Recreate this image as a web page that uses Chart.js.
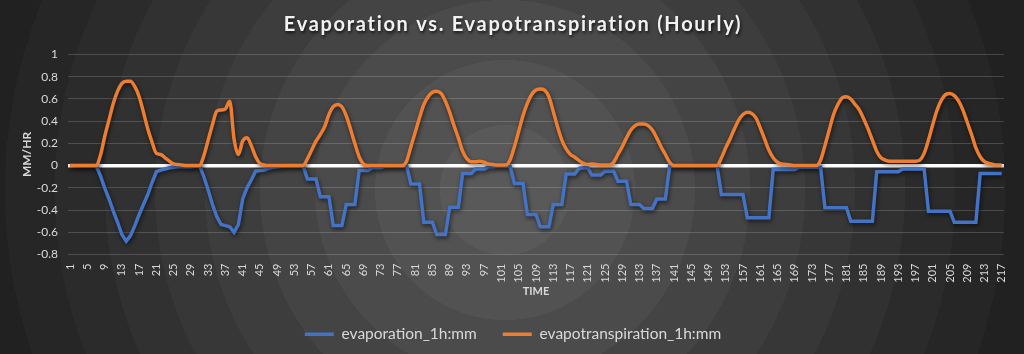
<!DOCTYPE html>
<html>
<head>
<meta charset="utf-8">
<script src="https://cdn.jsdelivr.net/npm/chart.js@4.4.1/dist/chart.umd.min.js"></script>
<style>
html,body{margin:0;padding:0;background:#222;}
#wrap{width:1024px;height:354px;position:relative;}
</style>
</head>
<body>
<div id="wrap"><canvas id="c" width="1024" height="354"></canvas></div>
<script>
const hours = [
  1,2,3,4,5,6,7,8,9,10,11,12,13,14,15,16,17,18,19,20,21,22,23,24,25,26,27,28,29,30,
  31,32,33,34,35,36,37,38,39,40,41,42,43,44,45,46,47,48,49,50,51,52,53,54,55,56,57,58,59,60,
  61,62,63,64,65,66,67,68,69,70,71,72,73,74,75,76,77,78,79,80,81,82,83,84,85,86,87,88,89,90,
  91,92,93,94,95,96,97,98,99,100,101,102,103,104,105,106,107,108,109,110,111,112,113,114,115,116,117,118,119,120,
  121,122,123,124,125,126,127,128,129,130,131,132,133,134,135,136,137,138,139,140,141,142,143,144,145,146,147,148,149,150,
  151,152,153,154,155,156,157,158,159,160,161,162,163,164,165,166,167,168,169,170,171,172,173,174,175,176,177,178,179,180,
  181,182,183,184,185,186,187,188,189,190,191,192,193,194,195,196,197,198,199,200,201,202,203,204,205,206,207,208,209,210,
  211,212,213,214,215,216,217
];

const evaporation = [
  0,0,0,0,0,0,0,
  -0.09,-0.2,-0.3,-0.41,-0.51,-0.62,-0.68,
  -0.63,-0.54,-0.44,-0.35,-0.26,-0.15,-0.055,
  -0.04,-0.03,-0.02,-0.015,-0.01,-0.01,-0.01,
  -0.01,-0.005,0,-0.1,-0.22,-0.35,-0.46,
  -0.53,-0.54,-0.55,-0.6,-0.53,-0.3,-0.2,
  -0.13,-0.05,-0.045,-0.04,-0.025,-0.015,-0.01,
  -0.005,0,0,0,0,0,-0.12,
  -0.12,-0.12,-0.28,-0.28,-0.28,-0.54,-0.54,
  -0.54,-0.35,-0.35,-0.35,-0.045,-0.045,-0.045,
  -0.02,-0.02,-0.02,-0.005,-0.005,-0.005,-0.005,
  -0.005,0,-0.165,-0.165,-0.165,-0.51,-0.51,
  -0.51,-0.62,-0.62,-0.62,-0.375,-0.375,-0.375,
  -0.07,-0.07,-0.07,-0.03,-0.03,-0.03,-0.01,
  -0.01,-0.005,-0.005,-0.005,-0.005,-0.16,-0.16,
  -0.16,-0.44,-0.44,-0.44,-0.55,-0.55,-0.55,
  -0.35,-0.35,-0.35,-0.075,-0.075,-0.075,-0.025,
  -0.02,-0.02,-0.085,-0.085,-0.085,-0.05,-0.05,
  -0.05,-0.14,-0.14,-0.14,-0.35,-0.35,-0.35,
  -0.385,-0.385,-0.385,-0.3,-0.3,-0.3,-0.005,
  -0.005,-0.005,-0.005,-0.005,-0.005,-0.005,-0.005,
  -0.005,-0.005,-0.005,-0.005,-0.26,-0.26,-0.26,
  -0.26,-0.26,-0.26,-0.47,-0.47,-0.47,-0.47,
  -0.47,-0.47,-0.035,-0.035,-0.035,-0.035,-0.035,
  -0.035,-0.015,-0.015,-0.015,-0.015,-0.015,-0.015,
  -0.38,-0.38,-0.38,-0.38,-0.38,-0.38,-0.5,
  -0.5,-0.5,-0.5,-0.5,-0.5,-0.055,-0.055,
  -0.055,-0.055,-0.055,-0.055,-0.03,-0.03,-0.03,
  -0.03,-0.03,-0.03,-0.41,-0.41,-0.41,-0.41,
  -0.41,-0.41,-0.51,-0.51,-0.51,-0.51,-0.51,
  -0.51,-0.07,-0.07,-0.07,-0.07,-0.07,-0.07
];

const evapotranspiration = [
  0,0,0,0,0,0,0,
  0.09,0.26,0.41,0.56,0.67,0.74,0.76,
  0.76,0.71,0.62,0.48,0.33,0.21,0.11,
  0.1,0.07,0.04,0.015,0.01,0.005,0,
  0,0,0,0.09,0.23,0.37,0.49,
  0.5,0.51,0.58,0.24,0.1,0.22,0.25,
  0.18,0.08,0.02,0.005,0,0,0,
  0,0,0,0,0,0,0.06,
  0.14,0.22,0.28,0.35,0.46,0.53,0.55,
  0.53,0.45,0.33,0.2,0.08,0.015,0,
  0,0,0,0,0,0,0,
  0,0.04,0.17,0.3,0.43,0.55,0.62,
  0.66,0.67,0.65,0.58,0.48,0.36,0.25,
  0.13,0.06,0.035,0.035,0.04,0.03,0.015,
  0.01,0.005,0.005,0.005,0.05,0.17,0.31,
  0.45,0.56,0.64,0.68,0.69,0.68,0.62,
  0.49,0.35,0.23,0.15,0.1,0.075,0.045,
  0.02,0.01,0.015,0.01,0.005,0.005,0.005,
  0.03,0.1,0.17,0.25,0.32,0.36,0.375,
  0.375,0.36,0.32,0.25,0.17,0.1,0.03,
  0,0,0,0,0,0,0,
  0,0,0,0,0.07,0.16,0.24,
  0.33,0.41,0.46,0.48,0.47,0.43,0.34,
  0.24,0.14,0.07,0.03,0.015,0.01,0.005,
  0,0,0,0,0,0,0.05,
  0.18,0.32,0.46,0.55,0.61,0.62,0.6,
  0.55,0.5,0.42,0.33,0.23,0.13,0.07,
  0.05,0.04,0.04,0.04,0.04,0.04,0.04,
  0.04,0.05,0.11,0.23,0.37,0.5,0.59,
  0.64,0.65,0.63,0.58,0.5,0.39,0.28,
  0.16,0.08,0.035,0.02,0.01,0.005,0.005
];

const seriesNames = ['evaporation_1h:mm', 'evapotranspiration_1h:mm'];
const chartTitle = 'Evaporation vs. Evapotranspiration (Hourly)';
const yAxisTitle = 'MM/HR';
const xAxisTitle = 'TIME';
const yMin = -0.8, yMax = 1, yStep = 0.2;
const xLabelEvery = 4;

const FONT = 'Lato, "Open Sans", "DejaVu Sans", sans-serif';
const TEXT = '#d9d9d9';

const bgPlugin = {
  id: 'radialBg',
  beforeDraw(chart) {
    const ctx = chart.ctx;
    const cx = 505, cy = 190, R = 600;
    const g = ctx.createRadialGradient(cx, cy, 0, cx, cy, R);
    const bands = [[65,'#595959'],[130,'#525252'],[190,'#4b4b4b'],[245,'#444444'],[300,'#3d3d3d'],
                   [350,'#373737'],[400,'#313131'],[450,'#2b2b2b'],[500,'#262626'],[600,'#212121']];
    let prev = 0;
    for (const [r, c] of bands) { g.addColorStop(prev / R, c); g.addColorStop(r / R, c); prev = r; }
    ctx.save();
    ctx.fillStyle = g;
    ctx.fillRect(0, 0, chart.width, chart.height);
    ctx.restore();
  }
};

const shadowPlugin = {
  id: 'lineShadow',
  beforeDatasetDraw(chart) {
    const ctx = chart.ctx;
    ctx.save();
    ctx.shadowColor = 'rgba(0,0,0,0.6)';
    ctx.shadowBlur = 4;
    ctx.shadowOffsetX = 1;
    ctx.shadowOffsetY = 2;
  },
  afterDatasetDraw(chart) { chart.ctx.restore(); }
};

// centre title and legend on the whole canvas rather than on the padded box
const centreBoxesPlugin = {
  id: 'centreBoxes',
  afterLayout(chart) {
    const dx = (chart.width - (chart.legend.left + chart.legend.right)) / 2 + 1;
    for (const box of [chart.legend, chart.titleBlock]) {
      if (box) { box.left += dx; box.right += dx; }
    }
  }
};

const chart = new Chart(document.getElementById('c'), {
  type: 'line',
  data: {
    labels: hours,
    datasets: [
      { label: seriesNames[0], data: evaporation, borderColor: '#4472c4', backgroundColor: '#4472c4',
        borderWidth: 3.5, pointRadius: 0, tension: 0, order: 2 },
      { label: seriesNames[1], data: evapotranspiration, borderColor: '#ed7d31', backgroundColor: '#ed7d31',
        borderWidth: 3.5, pointRadius: 0, cubicInterpolationMode: 'monotone', order: 1 }
    ]
  },
  options: {
    responsive: false,
    animation: false,
    layout: { padding: { top: 0, left: 0, right: 15, bottom: 2 } },
    plugins: {
      tooltip: { enabled: false },
      title: { display: true, text: chartTitle, color: '#f2f2f2',
        font: { family: FONT, size: 20, weight: 'bold' }, padding: { top: 12.5, bottom: 18 } },
      legend: { position: 'bottom',
        labels: { color: TEXT, font: { family: FONT, size: 15.5 }, usePointStyle: true, pointStyle: 'line',
          pointStyleWidth: 29, boxHeight: 14, padding: 26,
          sort: (a, b) => a.datasetIndex - b.datasetIndex } }
    },
    scales: {
      x: {
        offset: true,
        grid: { display: false, drawTicks: false },
        border: { display: false },
        ticks: { autoSkip: false, minRotation: 90, maxRotation: 90, padding: 9, color: TEXT,
          font: { family: FONT, size: 11 },
          callback(val, idx) { return idx % xLabelEvery === 0 ? this.getLabelForValue(val) : ''; } },
        title: { display: true, text: xAxisTitle, color: TEXT, font: { family: FONT, size: 11, weight: 'bold' },
          padding: { top: 0, bottom: 2 } },
        afterFit(scale) { scale.height = 46; }
      },
      y: {
        min: yMin, max: yMax,
        ticks: { stepSize: yStep, color: TEXT, font: { family: FONT, size: 12 }, padding: 10,
          callback: v => String(Math.round(v * 10) / 10) },
        grid: { drawTicks: false,
          color: c => Math.abs(c.tick.value) < 1e-9 ? '#ffffff' : 'rgba(255,255,255,0.17)',
          lineWidth: c => Math.abs(c.tick.value) < 1e-9 ? 3.5 : 1 },
        border: { display: false },
        title: { display: true, text: yAxisTitle, color: TEXT, font: { family: FONT, size: 12, weight: 'bold' },
          padding: { top: 20 } },
        afterFit(scale) { scale.width = 68; }
      }
    }
  },
  plugins: [bgPlugin, shadowPlugin, centreBoxesPlugin]
});

// title: slight letter spacing and a soft drop shadow, as in the reference
if (chart.titleBlock) {
  const tb = chart.titleBlock;
  const origDraw = tb.draw.bind(tb);
  tb.draw = function () {
    const ctx = this.ctx;
    ctx.save();
    ctx.letterSpacing = '1.7px';
    ctx.shadowColor = 'rgba(0,0,0,0.7)';
    ctx.shadowBlur = 3;
    ctx.shadowOffsetX = 1;
    ctx.shadowOffsetY = 2;
    origDraw();
    ctx.restore();
  };
  chart.draw();
}
</script>
</body>
</html>
